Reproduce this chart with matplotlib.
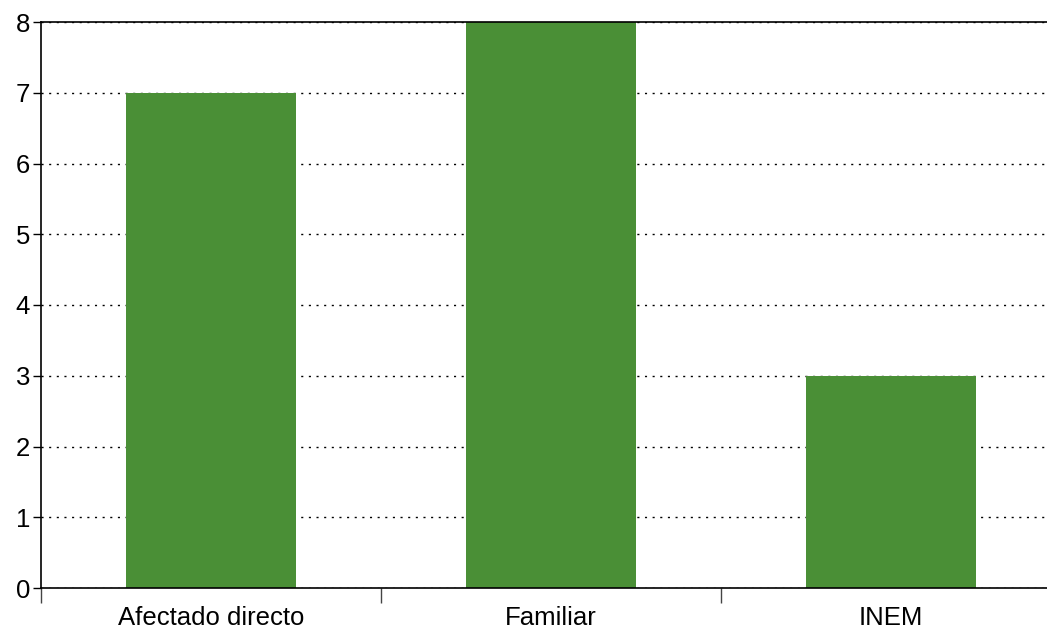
import matplotlib.pyplot as plt

categories = ['Afectado directo', 'Familiar', 'INEM']
values = [7, 8, 3]

plt.rcParams['font.family'] = ['Liberation Sans', 'DejaVu Sans']

fig = plt.figure(figsize=(10.47, 6.3), dpi=100)
ax = fig.add_axes([41 / 1047, 42 / 630, 1020 / 1047, 566 / 630])

x = list(range(len(categories)))
ax.bar(x, values, width=0.5, color='#4a8f36', zorder=2)

ax.set_xlim(-0.5, 2.5)
ax.set_ylim(0, 8)
ax.set_yticks(range(0, 9))
ax.set_xticks(x)
ax.set_xticklabels(categories, fontsize=18.5)
ax.set_xticks([-0.5, 0.5, 1.5], minor=True)
ax.tick_params(axis='x', which='major', length=0, pad=13)
ax.tick_params(axis='x', which='minor', length=11, width=1, color='#444444')
ax.tick_params(axis='y', labelsize=18.5, length=6, width=1, pad=2)

ax.yaxis.grid(True, linestyle=(0, (1.5, 4)), color='black', linewidth=1, zorder=1)
ax.set_axisbelow(True)

for s in ['left', 'bottom', 'top']:
    ax.spines[s].set_color('black')
    ax.spines[s].set_linewidth(1.2)
ax.spines['right'].set_visible(False)

fig.savefig('out.png', dpi=100)
